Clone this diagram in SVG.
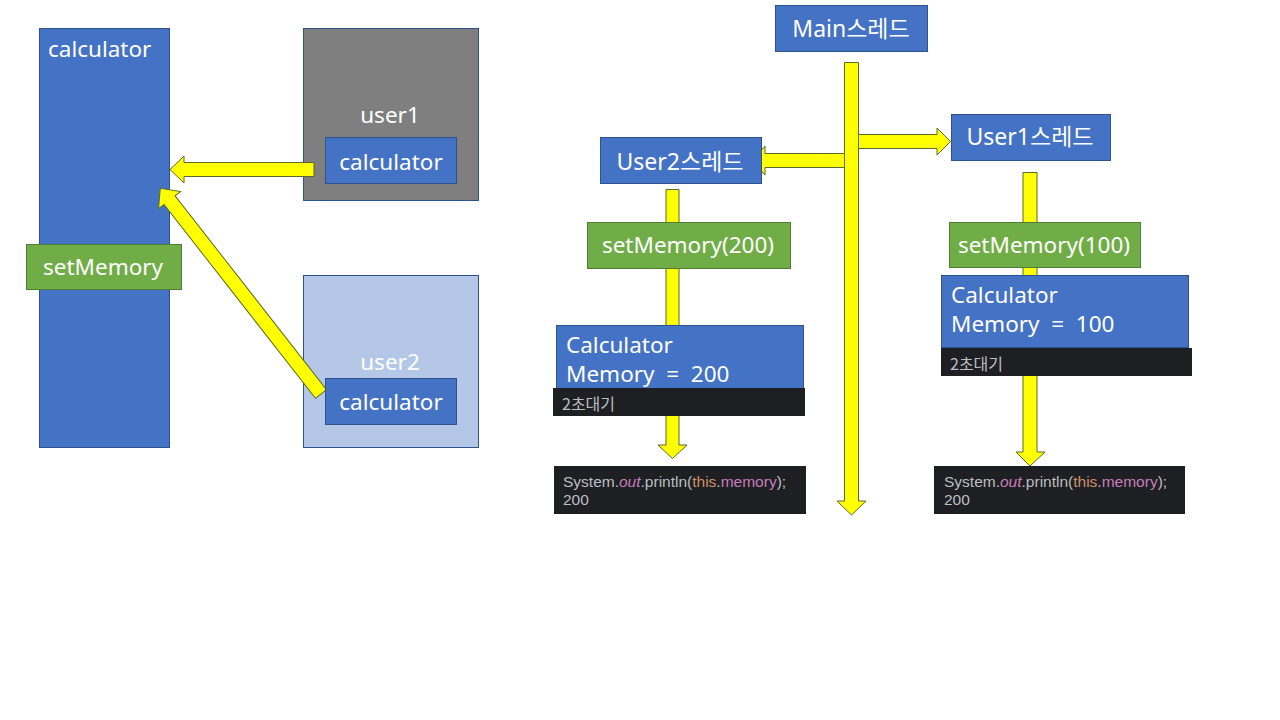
<svg xmlns="http://www.w3.org/2000/svg" width="1280" height="720" viewBox="0 0 1280 720">
<defs>
<style>
.blue{fill:#4472C4;stroke:#2F528F;stroke-width:1}
.gray{fill:#7F7F7F;stroke:#2F528F;stroke-width:1}
.light{fill:#B4C7E7;stroke:#2F528F;stroke-width:1}
.green{fill:#70AD47;stroke:#507E32;stroke-width:1}
.dark{fill:#1E1F22}
.arrow{fill:#FFFF00;stroke:#5A6B2A;stroke-width:1;stroke-linejoin:miter}
.t{font-family:"Noto Sans","Noto Sans CJK KR",sans-serif;font-size:22.5px;fill:#FFFFFF;white-space:pre}
.k{font-size:23px}
.c{text-anchor:middle}
.s{font-family:"Liberation Sans","Noto Sans CJK KR",sans-serif;font-size:15.5px;fill:#BCBEC4;white-space:pre}
.w{font-family:"Noto Sans CJK KR",sans-serif;font-size:16px;fill:#BCBEC4}
.it{font-style:italic;fill:#C77DBB}
.kw{fill:#CF8E6D}
.fd{fill:#C77DBB}
</style>
</defs>
<rect width="1280" height="720" fill="#FFFFFF"/>

<g id="calculator">
<rect class="blue" x="39.5" y="28.5" width="130" height="419"/>
<text class="t" x="48" y="57">calculator</text>
</g>
<g id="user1">
<rect class="gray" x="303.5" y="28.5" width="175" height="172"/>
<text class="t c" x="390" y="123">user1</text>
</g>
<g id="user2">
<rect class="light" x="303.5" y="275.5" width="175" height="172"/>
<text class="t c" x="390" y="370">user2</text>
</g>

<g id="connectors">
<polygon class="arrow" points="314,162.5 184,162.5 184,156 170,169.5 184,183 184,176.5 314,176.5"/>
<polygon class="arrow" transform="translate(321,394) rotate(-128)" points="0,-7 246,-7 246,-14 261,0 246,14 246,7 0,7"/>
<polygon class="arrow" points="844.5,62.5 858.5,62.5 858.5,501 866,501 851.5,515 837,501 844.5,501"/>
<polygon class="arrow" points="858.5,134.5 937,134.5 937,128 950.5,141.5 937,155 937,148.5 858.5,148.5"/>
<polygon class="arrow" points="844.5,153.5 765,153.5 765,146 752,160.5 765,175 765,167.5 844.5,167.5"/>
<polygon class="arrow" points="666,189.5 679,189.5 679,445 687,445 672.5,458.5 658,445 666,445"/>
<polygon class="arrow" points="1023,172.5 1037,172.5 1037,452 1045,452 1030,466 1016,452 1023,452"/>
</g>

<g id="user1-calculator">
<rect class="blue" x="325.5" y="137.5" width="131" height="46"/>
<text class="t c" x="391" y="170">calculator</text>
</g>
<g id="user2-calculator">
<rect class="blue" x="325.5" y="378.5" width="131" height="46"/>
<text class="t c" x="391" y="410">calculator</text>
</g>
<g id="setMemory">
<rect class="green" x="26.5" y="244.5" width="155" height="45"/>
<text class="t c" x="103" y="275">setMemory</text>
</g>

<g id="main-thread">
<rect class="blue" x="775.5" y="5.5" width="152" height="46"/>
<text class="t k c" x="851" y="37">Main스레드</text>
</g>
<g id="user2-thread">
<rect class="blue" x="600.5" y="137.5" width="161" height="46"/>
<text class="t k c" x="680" y="170">User2스레드</text>
</g>
<g id="user1-thread">
<rect class="blue" x="951.5" y="114.5" width="159" height="46"/>
<text class="t k c" x="1030" y="145">User1스레드</text>
</g>
<g id="setMemory200">
<rect class="green" x="587.5" y="222.5" width="203" height="46"/>
<text class="t c" x="688" y="253">setMemory(200)</text>
</g>
<g id="setMemory100">
<rect class="green" x="949.5" y="222.5" width="191" height="45"/>
<text class="t c" x="1044" y="253">setMemory(100)</text>
</g>
<g id="calc200">
<rect class="blue" x="556.5" y="325.5" width="247" height="66"/>
<text class="t" x="566" y="353">Calculator</text>
<text class="t" x="566" y="382">Memory  =  200</text>
</g>
<g id="calc100">
<rect class="blue" x="941.5" y="275.5" width="247" height="72"/>
<text class="t" x="951" y="303">Calculator</text>
<text class="t" x="951" y="332">Memory  =  100</text>
</g>
<g id="wait200">
<rect class="dark" x="553" y="388" width="252" height="28"/>
<text class="w" x="562" y="410">2초대기</text>
</g>
<g id="wait100">
<rect class="dark" x="941" y="348" width="251" height="28"/>
<text class="w" x="950" y="370">2초대기</text>
</g>
<g id="output200">
<rect class="dark" x="554" y="466" width="252" height="48"/>
<text class="s" x="563" y="487">System.<tspan class="it">out</tspan>.println(<tspan class="kw">this</tspan>.<tspan class="fd">memory</tspan>);</text>
<text class="s" x="563" y="505">200</text>
</g>
<g id="output100">
<rect class="dark" x="934" y="466" width="251" height="48"/>
<text class="s" x="944" y="487">System.<tspan class="it">out</tspan>.println(<tspan class="kw">this</tspan>.<tspan class="fd">memory</tspan>);</text>
<text class="s" x="944" y="505">200</text>
</g>
</svg>
